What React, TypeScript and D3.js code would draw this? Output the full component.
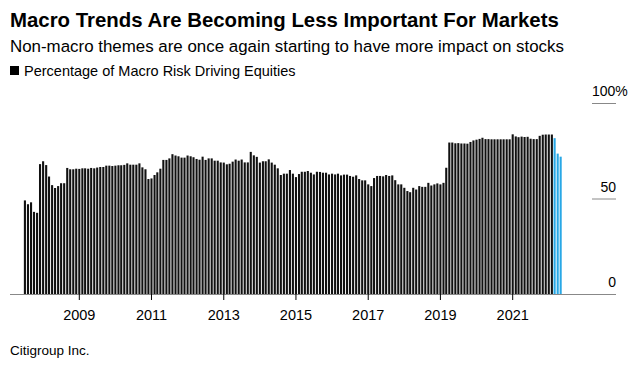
import React, { useEffect, useRef } from 'react';
import * as d3 from 'd3';

// monthly values, Jul 2007 .. May 2022
const startYear = 2007;
const startMonth = 6; // July (0-based)
const values2007 = [49, 47, 48, 43, 42.5, 68];
const values2008 = [69.5, 67.5, 61.5, 57, 55.5, 56.5, 58, 58, 66, 65.3, 65.3, 65.6];
const values2009 = [65.5, 65.8, 65.8, 65.6, 66, 65.8, 66.2, 66.5, 66.5, 67.2, 67.2, 67];
const values2010 = [67.2, 67.4, 67.4, 67.6, 68.4, 67.7, 67.7, 67.7, 68.4, 66.3, 65.3, 60.2];
const values2011 = [60.5, 62.3, 63.7, 65.6, 70.2, 70.2, 71, 73.2, 72.5, 72.1, 71.4, 71.4];
const values2012 = [72.5, 72.1, 71.6, 70.7, 70.3, 71.9, 70.2, 71, 71, 69.8, 69.8, 68.9];
const values2013 = [68.8, 67.9, 68.2, 69.3, 70.4, 69.8, 70.4, 68.9, 68.9, 74.4, 72.6, 71.8];
const values2014 = [68.8, 69.5, 69.5, 70.5, 68.8, 67.7, 65.8, 62.3, 63, 63, 64.9, 63];
const values2015 = [61.2, 62.8, 64, 64, 64.4, 63.5, 62.6, 64, 63.9, 63.5, 63.5, 62.6];
const values2016 = [63, 62.6, 63, 62.1, 62.5, 62.5, 61.8, 61.4, 62.1, 60.2, 59.5, 59.5];
const values2017 = [57.4, 56.5, 60.7, 61.8, 61.8, 61.6, 62.3, 61.8, 62.1, 59.6, 57.4, 57.4];
const values2018 = [55.6, 53.9, 53.3, 55.6, 54.7, 56.5, 56.1, 56.1, 58.2, 56.8, 57.4, 57.9];
const values2019 = [57.4, 58.2, 66.1, 79.3, 79.3, 78.9, 79.0, 78.8, 78.8, 78.7, 79.6, 80.4];
const values2020 = [80.8, 81.2, 81.8, 81.1, 81.1, 81.0, 81.0, 81.0, 81.0, 81.0, 81.0, 81.0];
const values2021 = [83.6, 82.5, 82.1, 82.4, 82.2, 82.3, 81.3, 81.1, 81.1, 82.8, 83.4, 83.5];
const values2022 = [83.5, 83.5, 81.6, 73.5, 71.9];
const highlightCount = 3; // last months drawn in blue

const xTickYears = [2009, 2011, 2013, 2015, 2017, 2019, 2021];
const yTicks = [0, 50, 100];

const title = 'Macro Trends Are Becoming Less Important For Markets';
const subtitle = 'Non-macro themes are once again starting to have more impact on stocks';
const legendLabel = 'Percentage of Macro Risk Driving Equities';
const source = 'Citigroup Inc.';

const allValues = [
  ...values2007, ...values2008, ...values2009, ...values2010, ...values2011, ...values2012,
  ...values2013, ...values2014, ...values2015, ...values2016, ...values2017, ...values2018,
  ...values2019, ...values2020, ...values2021, ...values2022,
];

const App = () => {
  const ref = useRef<SVGSVGElement>(null);

  useEffect(() => {
    draw(ref.current);
  }, []);

  return (
    <svg ref={ref} width={637} height={365}
      style={{ position: 'absolute', left: 0, top: 0, background: '#fff' }} />
  );
};

const draw = (node: SVGSVGElement | null) => {
  if (!node) return;
  const svg = d3.select(node);
  svg.selectAll('*').remove();

  const font = "'Liberation Sans', Arial, sans-serif";
  const data = allValues.map((v, i) => ({
    date: new Date(startYear, startMonth + i, 1),
    val: v,
    hi: i >= allValues.length - highlightCount,
  }));

  // x: Jan 2009 -> 79.3, Jan 2021 -> 512.7
  const x = d3.scaleTime()
    .domain([new Date(2009, 0, 1), new Date(2021, 0, 1)])
    .range([79.3, 512.7]);
  const y = d3.scaleLinear().domain([0, 100]).range([294, 103]);

  // titles
  svg.append('text').attr('x', 10).attr('y', 27).text(title)
    .style('font-family', font).style('font-weight', 'bold').style('font-size', '20.4px').attr('fill', '#000');
  svg.append('text').attr('x', 10).attr('y', 52).text(subtitle)
    .style('font-family', font).style('font-size', '16.9px').attr('fill', '#000');
  svg.append('rect').attr('x', 10).attr('y', 66).attr('width', 9).attr('height', 9).attr('fill', '#000');
  svg.append('text').attr('x', 24).attr('y', 76).text(legendLabel)
    .style('font-family', font).style('font-size', '14.5px').attr('fill', '#000');

  // bars
  const barW = 2.1;
  svg.append('g').selectAll('rect')
    .data(data)
    .enter()
    .append('rect')
    .attr('x', (d) => x(d.date) - barW / 2)
    .attr('y', (d) => y(d.val))
    .attr('width', barW)
    .attr('height', (d) => y(0) - y(d.val))
    .attr('fill', (d) => (d.hi ? '#29a8e6' : '#111'));

  // x axis
  svg.append('line').attr('x1', 10).attr('x2', 616).attr('y1', y(0) + 0.5).attr('y2', y(0) + 0.5)
    .attr('stroke', '#888').attr('stroke-width', 1);
  const xt = svg.append('g').selectAll('g')
    .data(xTickYears)
    .enter()
    .append('g')
    .attr('transform', (d) => 'translate(' + x(new Date(d, 0, 1)) + ',0)');
  xt.append('line').attr('x1', 0).attr('x2', 0).attr('y1', y(0)).attr('y2', y(0) + 6)
    .attr('stroke', '#000').attr('stroke-width', 1);
  xt.append('text').attr('y', 320).attr('text-anchor', 'middle').text((d) => String(d))
    .style('font-family', font).style('font-size', '14.5px').attr('fill', '#000');

  // y axis on the right
  const yt = svg.append('g').selectAll('g')
    .data(yTicks)
    .enter()
    .append('g')
    .attr('transform', (d) => 'translate(0,' + y(d) + ')');
  yt.filter((d) => d !== 0).append('line').attr('x1', 592).attr('x2', 616).attr('y1', 0.5).attr('y2', 0.5)
    .attr('stroke', '#888').attr('stroke-width', 1);
  yt.append('text').attr('x', 616).attr('y', -7).attr('text-anchor', 'end')
    .text((d) => String(d))
    .style('font-family', font).style('font-size', '14px').attr('fill', '#000');
  yt.filter((d) => d === 100).select('text').text('100').append('tspan').text('%');
  yt.filter((d) => d === 100).select('text').attr('text-anchor', 'start').attr('x', 592);

  svg.append('text').attr('x', 10).attr('y', 355).text(source)
    .style('font-family', font).style('font-size', '13.5px').attr('fill', '#000');
};

export default App;
